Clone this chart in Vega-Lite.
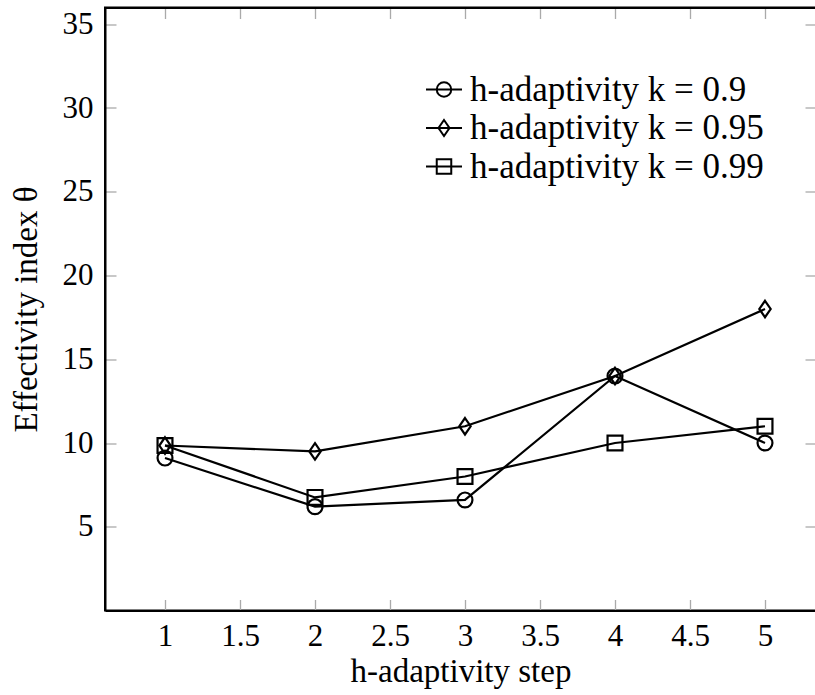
{
  "$schema": "https://vega.github.io/schema/vega-lite/v6.json",
  "autosize": {"type": "none"},
  "padding": {"left": 105, "top": 7.5, "right": 0, "bottom": 85},
  "width": 711,
  "height": 603,
  "background": "white",
  "config": {
    "view": {"stroke": "black", "strokeWidth": 2},
    "font": "Liberation Serif",
    "axis": {
      "labelFont": "Liberation Serif",
      "titleFont": "Liberation Serif",
      "labelFontSize": 31,
      "titleFontSize": 33,
      "titleFontWeight": "normal",
      "labelColor": "black",
      "titleColor": "black",
      "grid": false,
      "domainColor": "black",
      "domainWidth": 2,
      "tickColor": "#aaaaaa",
      "tickWidth": 1.3,
      "tickSize": -11
    },
    "legend": {
      "labelFont": "Liberation Serif",
      "labelFontSize": 35,
      "labelColor": "black"
    }
  },
  "data": {
    "values": [
      {"step": 1, "theta": 9.1, "series": "h-adaptivity k = 0.9"},
      {"step": 2, "theta": 6.2, "series": "h-adaptivity k = 0.9"},
      {"step": 3, "theta": 6.6, "series": "h-adaptivity k = 0.9"},
      {"step": 4, "theta": 14.0, "series": "h-adaptivity k = 0.9"},
      {"step": 5, "theta": 10.0, "series": "h-adaptivity k = 0.9"},
      {"step": 1, "theta": 9.85, "series": "h-adaptivity k = 0.95"},
      {"step": 2, "theta": 9.5, "series": "h-adaptivity k = 0.95"},
      {"step": 3, "theta": 11.0, "series": "h-adaptivity k = 0.95"},
      {"step": 4, "theta": 14.0, "series": "h-adaptivity k = 0.95"},
      {"step": 5, "theta": 18.0, "series": "h-adaptivity k = 0.95"},
      {"step": 1, "theta": 9.85, "series": "h-adaptivity k = 0.99"},
      {"step": 2, "theta": 6.75, "series": "h-adaptivity k = 0.99"},
      {"step": 3, "theta": 8.0, "series": "h-adaptivity k = 0.99"},
      {"step": 4, "theta": 10.0, "series": "h-adaptivity k = 0.99"},
      {"step": 5, "theta": 11.0, "series": "h-adaptivity k = 0.99"}
    ]
  },
  "layer": [
    {
      "mark": {"type": "line", "color": "black", "strokeWidth": 2.2},
      "encoding": {
        "x": {
          "field": "step",
          "type": "quantitative",
          "scale": {"domain": [0.6, 5.34], "nice": false, "zero": false},
          "axis": {
            "orient": "bottom",
            "values": [1, 1.5, 2, 2.5, 3, 3.5, 4, 4.5, 5],
            "format": "~g",
            "title": "h-adaptivity step",
            "labelPadding": 22,
            "titlePadding": 4
          }
        },
        "y": {
          "field": "theta",
          "type": "quantitative",
          "scale": {"domain": [0, 36], "nice": false, "zero": false},
          "axis": {
            "orient": "left",
            "values": [5, 10, 15, 20, 25, 30, 35],
            "format": "~g",
            "title": "Effectivity index θ",
            "labelPadding": 23,
            "titlePadding": 19
          }
        },
        "detail": {"field": "series"}
      }
    },
    {
      "mark": {"type": "point", "filled": false, "stroke": "black", "strokeWidth": 2.2, "size": 270, "opacity": 1},
      "encoding": {
        "x": {"field": "step", "type": "quantitative", "axis": null},
        "y": {"field": "theta", "type": "quantitative", "axis": null},
        "shape": {
          "field": "series",
          "type": "nominal",
          "legend": null,
          "scale": {
            "domain": ["h-adaptivity k = 0.9", "h-adaptivity k = 0.95", "h-adaptivity k = 0.99"],
            "range": [
              "M0.906,0A0.906,0.906,0,1,1,-0.906,0A0.906,0.906,0,1,1,0.906,0Z",
              "M0,-1L0.69,0L0,1L-0.69,0Z",
              "M-0.906,-0.906L0.906,-0.906L0.906,0.906L-0.906,0.906Z"
            ]
          }
        }
      }
    },
    {
      "transform": [{"filter": "datum.step > 100"}],
      "mark": {"type": "point", "filled": false, "stroke": "black", "strokeWidth": 2},
      "encoding": {
        "x": {"field": "step", "type": "quantitative", "axis": {"orient": "top", "labels": false, "title": null, "values": [1, 1.5, 2, 2.5, 3, 3.5, 4, 4.5, 5]}},
        "y": {"field": "theta", "type": "quantitative", "axis": {"orient": "right", "labels": false, "title": null, "values": [5, 10, 15, 20, 25, 30, 35]}},
        "shape": {
          "field": "series",
          "type": "nominal",
          "scale": {
            "domain": ["h-adaptivity k = 0.9", "h-adaptivity k = 0.95", "h-adaptivity k = 0.99"],
            "range": [
              "M-1,0L1,0M0.403,0A0.403,0.403,0,1,1,-0.403,0A0.403,0.403,0,1,1,0.403,0Z",
              "M-1,0L1,0M0,-0.444L0.306,0L0,0.444L-0.306,0Z",
              "M-1,0L1,0M-0.403,-0.403L0.403,-0.403L0.403,0.403L-0.403,0.403Z"
            ]
          },
          "legend": {
            "title": null,
            "orient": "none",
            "legendX": 320,
            "legendY": 63,
            "padding": 0,
            "symbolSize": 1296,
            "symbolStrokeWidth": 2,
            "symbolFillColor": "transparent",
            "symbolStrokeColor": "black",
            "symbolOpacity": 1,
            "labelOffset": 7,
            "labelLimit": 0,
            "rowPadding": 1.5
          }
        }
      }
    }
  ],
  "resolve": {
    "axis": {"x": "independent", "y": "independent"},
    "scale": {"shape": "independent"},
    "legend": {"shape": "independent"}
  }
}
